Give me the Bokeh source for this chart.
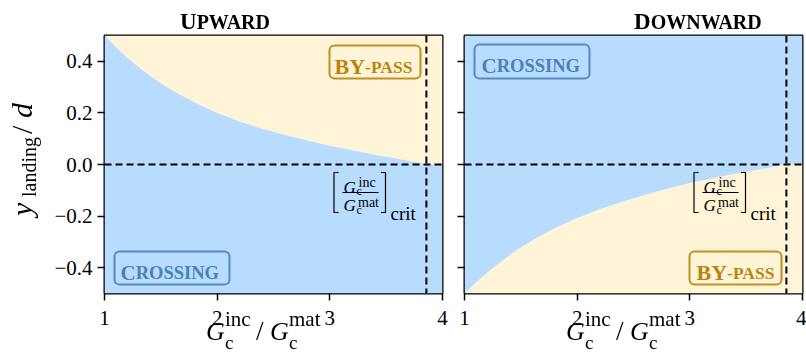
from bokeh.plotting import figure
from bokeh.layouts import row, column
from bokeh.models import Range1d, Span, Label, BoxAnnotation, Div
from bokeh.embed import file_html
from bokeh.resources import INLINE

# ---------------- data ----------------
ratio = [1.00, 1.10, 1.20, 1.30, 1.40, 1.50, 1.60, 1.80, 2.00, 2.20,
         2.40, 2.60, 2.80, 3.00, 3.20, 3.40, 3.60, 3.80, 3.857, 4.00]
y_upward = [0.500, 0.455, 0.415, 0.378, 0.345, 0.315, 0.288, 0.240, 0.200, 0.167,
            0.139, 0.114, 0.093, 0.073, 0.055, 0.038, 0.022, 0.006, 0.0, 0.0]
y_downward = [-0.500, -0.458, -0.420, -0.385, -0.352, -0.322, -0.295, -0.247, -0.207, -0.173,
              -0.144, -0.118, -0.094, -0.072, -0.053, -0.036, -0.020, -0.005, 0.0, 0.0]
crit_ratio = 3.857
xticks = [1, 2, 3, 4]
yticks = [-0.4, -0.2, 0.0, 0.2, 0.4]
ytick_labels = ["\u22120.4", "\u22120.2", "0.0", "0.2", "0.4"]

# ---------------- style ----------------
BLUE = "#b7dcfd"
YELLOW = "#fff4d7"
CROSS_C = "#4a82b6"
BYPASS_C = "#b8860b"
SERIF = "Liberation Serif"

FRAME_L = [104, 464]   # page px of each frame's left edge
FRAME_T = 35
FRAME_W = 338
FRAME_H = 258
FIG_H = 348


def dx(i, px):
    return 1 + (px - FRAME_L[i]) * 3.0 / FRAME_W


def dy(py):
    return 0.5 - (py - FRAME_T) / FRAME_H


def txt(p, i, px, py, s, size, style="normal", color="black"):
    p.add_layout(Label(x=dx(i, px), y=dy(py), text=s, text_font=SERIF,
                       text_font_size=f"{size}px", text_font_style=style,
                       text_color=color, text_align="left",
                       text_baseline="alphabetic"))


def make_fig(width, bl, br):
    p = figure(width=width, height=FIG_H, x_range=Range1d(1, 4), y_range=Range1d(-0.5, 0.5),
               min_border_left=bl, min_border_right=br, min_border_top=FRAME_T,
               min_border_bottom=FIG_H - FRAME_T - FRAME_H, toolbar_location=None,
               output_backend="svg")
    p.grid.visible = False
    p.outline_line_color = "black"
    p.outline_line_width = 2
    p.outline_line_alpha = 1
    p.xaxis.ticker = xticks
    p.yaxis.ticker = yticks
    for ax in (p.xaxis, p.yaxis):
        ax.axis_line_color = None
        ax.major_tick_out = 7
        ax.major_tick_in = 0
        ax.major_tick_line_width = 1.5
        ax.minor_tick_line_color = None
        ax.major_label_text_font = SERIF
        ax.major_label_text_font_size = "21px"
        ax.major_label_text_color = "black"
    p.xaxis.major_label_standoff = 10
    p.yaxis.major_label_standoff = 5
    return p


def dashed(p):
    p.add_layout(Span(location=0, dimension="width", line_color="black",
                      line_width=2, line_dash="7 4"))
    p.add_layout(Span(location=crit_ratio, dimension="height", line_color="black",
                      line_width=2, line_dash="7 4"))


def smallcaps(p, i, px, py, big, rest, big_size, rest_size, adv, color):
    txt(p, i, px, py, big, big_size, "bold", color)
    txt(p, i, px + adv, py, rest, rest_size, "bold", color)


def box(p, i, x0, x1, y0, y1, color):
    p.add_layout(BoxAnnotation(left=dx(i, x0), right=dx(i, x1), top=dy(y0), bottom=dy(y1),
                               fill_alpha=0, line_color=color, line_alpha=0.9,
                               line_width=2, border_radius=5))


def crit_note(p, i):
    c = 426 if i == 0 else 786
    b = c - 92.5
    p.line(x=[dx(i, b + 4.5), dx(i, b), dx(i, b), dx(i, b + 4.5)],
           y=[dy(172), dy(172), dy(212), dy(212)], line_color="black", line_width=1.2)
    r = b + 51.5
    p.line(x=[dx(i, r - 4.5), dx(i, r), dx(i, r), dx(i, r - 4.5)],
           y=[dy(172), dy(172), dy(212), dy(212)], line_color="black", line_width=1.2)
    p.line(x=[dx(i, b + 8.5), dx(i, b + 44.5)], y=[dy(192), dy(192)],
           line_color="black", line_width=1)
    txt(p, i, b + 9.5, 186.5, "G", 17, "italic")
    txt(p, i, b + 22.5, 190, "c", 12)
    txt(p, i, b + 24.5, 181.5, "inc", 14)
    txt(p, i, b + 9.5, 205, "G", 17, "italic")
    txt(p, i, b + 22.5, 209.5, "c", 12)
    txt(p, i, b + 24, 201.5, "mat", 14)
    txt(p, i, b + 56.5, 212.5, "crit", 19)


# ---------------- left panel: upward ----------------
p1 = make_fig(FRAME_L[0] + FRAME_W + 8, FRAME_L[0], 8)
p1.varea(x=ratio, y1=y_upward, y2=[0.5] * len(ratio), fill_color=YELLOW)
p1.varea(x=ratio, y1=[-0.5] * len(ratio), y2=y_upward, fill_color=BLUE)
p1.yaxis.major_label_overrides = dict(zip(yticks, ytick_labels))
dashed(p1)
crit_note(p1, 0)
box(p1, 0, 329, 420, 45, 78, BYPASS_C)
smallcaps(p1, 0, 334, 66, "BY", "-PASS", 22, 17.5, 30.6, BYPASS_C)
box(p1, 0, 114, 229, 251, 284, CROSS_C)
smallcaps(p1, 0, 120, 272, "C", "ROSSING", 21, 18.5, 15.2, CROSS_C)

# ---------------- right panel: downward ----------------
left2 = FRAME_L[1] - (FRAME_L[0] + FRAME_W + 8)
p2 = make_fig(left2 + FRAME_W + 4, left2, 4)
p2.varea(x=ratio, y1=[-0.5] * len(ratio), y2=y_downward, fill_color=YELLOW)
p2.varea(x=ratio, y1=y_downward, y2=[0.5] * len(ratio), fill_color=BLUE)
p2.yaxis.major_label_overrides = {t: "" for t in yticks}
p2.yaxis.major_label_standoff = 0
dashed(p2)
crit_note(p2, 1)
box(p2, 1, 474, 589, 44, 78, CROSS_C)
smallcaps(p2, 1, 481, 65.7, "C", "ROSSING", 21, 18.5, 15.2, CROSS_C)
box(p2, 1, 689, 781, 251, 284, BYPASS_C)
smallcaps(p2, 1, 696, 272, "BY", "-PASS", 22, 17.5, 30.6, BYPASS_C)

# ---------------- texts outside the frames (titles, axis labels) ----------------


def st(size, italic=False, bold=False):
    s = f"font-family:'{SERIF}';font-size:{size}px;fill:black;"
    s += "font-style:italic;" if italic else "font-style:normal;"
    s += "font-weight:bold;" if bold else "font-weight:normal;"
    return f'style="{s}"'


def title_svg(x, big, rest):
    return (f'<text x="{x}" y="29.3" {st(20, bold=True)}>'
            f'<tspan {st(23, bold=True)}>{big}</tspan>'
            f'<tspan {st(20, bold=True)}>{rest}</tspan></text>')


def xlabel_svg(o):
    return (f'<text {st(21)}>'
            f'<tspan x="{206 + o}" y="340" {st(26, italic=True)}>G</tspan>'
            f'<tspan x="{225 + o}" y="349" {st(19)}>c</tspan>'
            f'<tspan x="{225 + o}" y="326" {st(21)}>inc</tspan>'
            f'<tspan x="{256 + o}" y="340" {st(27)}>/</tspan>'
            f'<tspan x="{270 + o}" y="340" {st(26, italic=True)}>G</tspan>'
            f'<tspan x="{289 + o}" y="349" {st(19)}>c</tspan>'
            f'<tspan x="{289 + o}" y="326" {st(21)}>mat</tspan></text>')


ylabel_svg = (f'<text transform="translate(32,216) rotate(-90)" {st(30)}>'
              f'<tspan x="0" y="0" {st(30, italic=True)}>y</tspan>'
              f'<tspan x="19" y="4" {st(20)}>landing</tspan>'
              f'<tspan x="82" y="0" {st(30)}>/</tspan>'
              f'<tspan x="98" y="0" {st(30, italic=True)}>d</tspan></text>')

svg = ('<svg xmlns="http://www.w3.org/2000/svg" width="806" height="354" '
       'style="position:fixed;left:0;top:0;pointer-events:none;overflow:hidden;">'
       + title_svg(180, "U", "PWARD") + title_svg(634, "D", "OWNWARD")
       + xlabel_svg(0) + xlabel_svg(360) + ylabel_svg +
       '</svg>')

overlay = Div(text=svg, width=806, height=1, margin=0, styles={"overflow": "visible"})

layout = column(row(p1, p2), overlay)
open("out.html", "w").write(file_html(layout, INLINE))
